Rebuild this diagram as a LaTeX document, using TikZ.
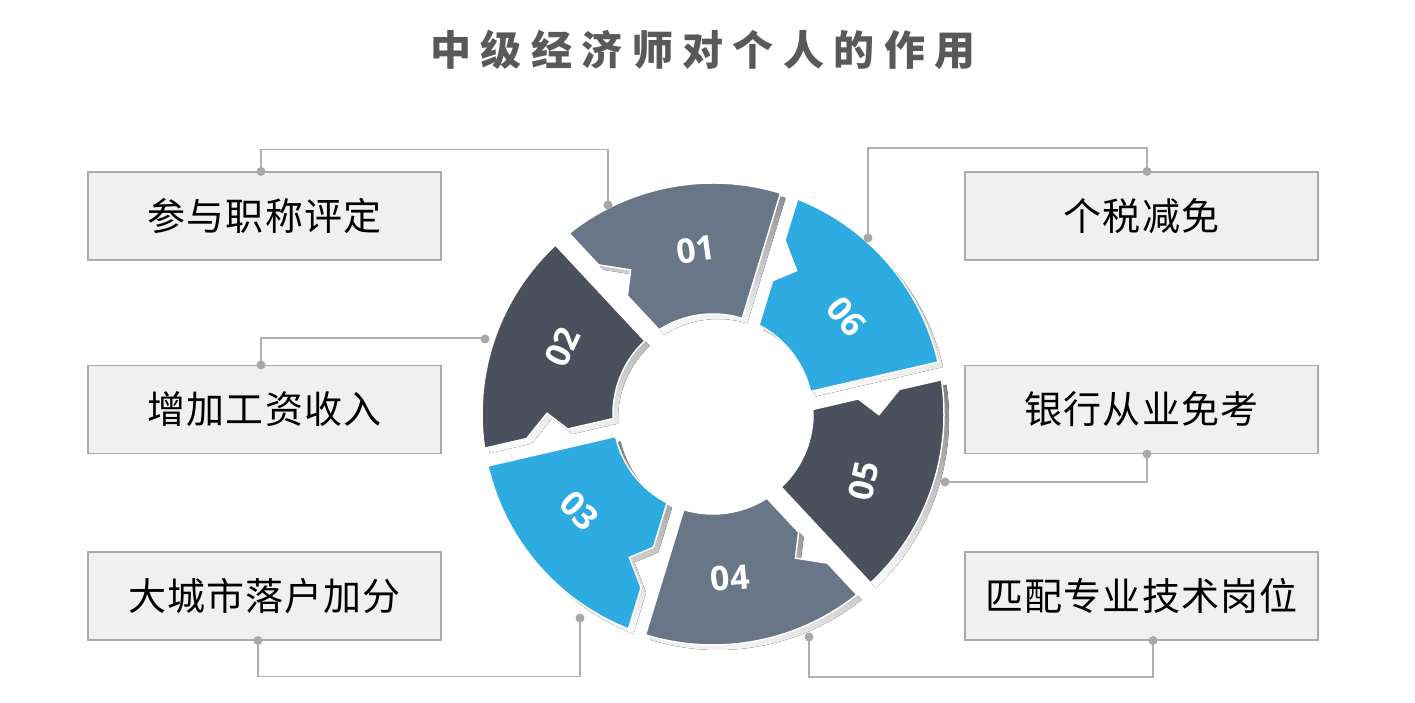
\documentclass[tikz,border=0pt]{standalone}
\usepackage{fontspec}
\newfontfamily\cjk{Noto Sans CJK SC}[LetterSpace=3]
\newfontfamily\titlefont{Noto Sans CJK SC}[LetterSpace=23]
\newfontfamily\numfont{Open Sans}
\usetikzlibrary{calc}
\definecolor{slateseg}{HTML}{687687}
\definecolor{darkseg}{HTML}{4A515D}
\definecolor{blueseg}{HTML}{2EACE2}
\definecolor{shade}{HTML}{9E9E9E}
\definecolor{wiregray}{HTML}{B0B0B0}
\definecolor{dotgray}{HTML}{A8A8A8}
\definecolor{boxfill}{HTML}{F0F0F0}
\definecolor{boxline}{HTML}{AAAAAA}
\definecolor{titlegray}{HTML}{595959}

\begin{document}
\begin{tikzpicture}[x=1pt,y=1pt]
 \tikzstyle{infobox} = [draw=boxline,fill=boxfill,line width=1.2pt,minimum width=353pt,minimum height=88pt,font=\cjk\fontsize{38}{42}\selectfont]
 \tikzstyle{wire} = [draw=wiregray,line width=1.4pt]
 \tikzstyle{segnum} = [text=white,font=\numfont\bfseries\fontsize{34}{34}\selectfont]
 \newcommand{\outr}{231}
 \newcommand{\innr}{100}
 \newcommand{\segpath}[1]{(#1-60:\outr) arc[start angle=#1-60,end angle=#1-4.47,radius=\outr pt]
   -- (#1-5.49:188) -- (#1-13.23:166) -- (#1-7.08:146)
   -- (#1-10.37:\innr) arc[start angle=#1-10.37,end angle=#1-60,radius=\innr pt] -- cycle}

 \useasboundingbox (0,0) rectangle (1415,703);

 \node[titlegray,font=\titlefont\bfseries\fontsize{41}{45}\selectfont] (title) at (703,653) {中级经济师对个人的作用};

% Ring of six pieces, shadow first
 \begin{scope}[shift={(713,289)}]
  \foreach \g in {73,133,193,253,313,373}
    \fill[shade,shift={(5,-5)}] \segpath{\g};
  \foreach \g/\col in {133/slateseg,193/darkseg,253/blueseg,313/slateseg,373/darkseg,73/blueseg}
    \filldraw[fill=\col,draw=white,line width=1.5pt] \segpath{\g};
  \foreach \g/\num/\rot in {133/01/8,193/02/65,253/03/-45,313/04/5,373/05/78,73/06/-50}
    \node[segnum,rotate=\rot] (n\num) at (\g-37:165) {\num};
 \end{scope}

% Boxes
 \node[infobox] (box1) at (264.5,487) {参与职称评定};
 \node[infobox] (box2) at (264.5,293.5) {增加工资收入};
 \node[infobox] (box3) at (264.5,107) {大城市落户加分};
 \node[infobox] (box4) at (1141.5,487) {个税减免};
 \node[infobox] (box5) at (1141.5,293.5) {银行从业免考};
 \node[infobox] (box6) at (1141.5,107) {匹配专业技术岗位};

% Connectors
 \coordinate (s1) at (608,498);
 \coordinate (s2) at (485,364);
 \coordinate (s3) at (580,85);
 \coordinate (s4) at (809,66);
 \coordinate (s5) at (945,221);
 \coordinate (s6) at (868,465);
 \coordinate (b1) at (box1.north -| 261,0);
 \coordinate (b2) at (box2.north -| 261,0);
 \coordinate (b3) at (box3.south -| 258,0);
 \coordinate (b4) at (box4.north -| 1147,0);
 \coordinate (b5) at (box5.south -| 1147,0);
 \coordinate (b6) at (box6.south -| 1153,0);

 \draw[wire] (b1) -- ++(0,22) -| (s1);
 \draw[wire] (b2) -- ++(0,27) -| (s2);
 \draw[wire] (b3) -- ++(0,-36) -| (s3);
 \draw[wire] (s4) -- ++(0,-40) -| (b6);
 \draw[wire] (s5) -| (b5);
 \draw[wire] (s6) -- ++(0,90) -| (b4);
 \foreach \p in {s1,s2,s3,s4,s5,s6,b1,b2,b3,b4,b5,b6}
   \fill[dotgray] (\p) circle (4.5);

\end{tikzpicture}
\end{document}
